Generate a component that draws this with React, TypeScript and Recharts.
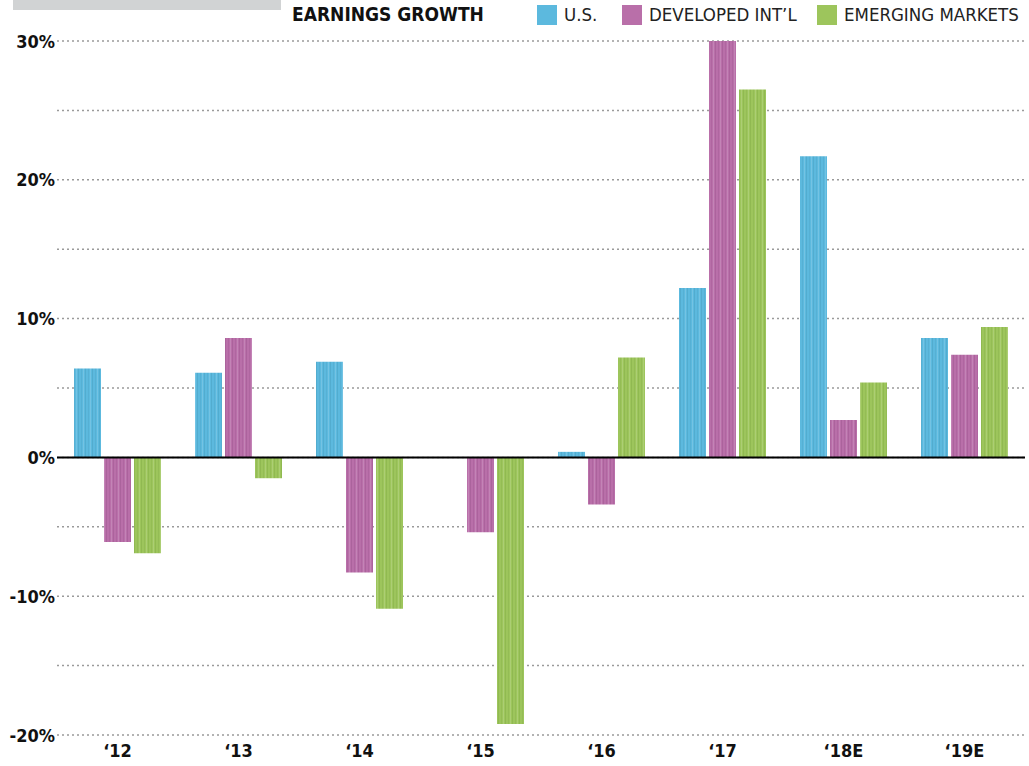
import React from "react";
import {
  BarChart,
  Bar,
  XAxis,
  YAxis,
  CartesianGrid,
  ReferenceLine,
} from "recharts";

// Earnings growth by year, in percent
const years = ["‘12", "‘13", "‘14", "‘15", "‘16", "‘17", "‘18E", "‘19E"];
const usGrowth = [6.4, 6.1, 6.9, 0, 0.4, 12.2, 21.7, 8.6];
const developedGrowth = [-6.1, 8.6, -8.3, -5.4, -3.4, 30.0, 2.7, 7.4];
const emergingGrowth = [-6.9, -1.5, -10.9, -19.2, 7.2, 26.5, 5.4, 9.4];
const yTicks = [-20, -15, -10, -5, 0, 5, 10, 15, 20, 25, 30];

const SERIES = [
  { key: "us", label: "U.S.", color: "#5cb9de", dark: "#4fa7ca" },
  { key: "dev", label: "DEVELOPED INT’L", color: "#b96fa9", dark: "#a65e97" },
  { key: "em", label: "EMERGING MARKETS", color: "#9dc55c", dark: "#8bb44d" },
];

const data = years.map((year, i) => ({
  year,
  us: usGrowth[i],
  dev: developedGrowth[i],
  em: emergingGrowth[i],
}));

const NARROW = "'Liberation Sans Narrow', 'DejaVu Sans Condensed', 'Roboto', sans-serif";

const YTick = ({ x, y, payload }: any) => {
  if (payload.value % 10 !== 0) return null;
  return (
    <text
      x={x + 6}
      y={y}
      textAnchor="end"
      dominantBaseline="central"
      fontFamily={NARROW}
      fontWeight={700}
      fontSize={18}
      fill="#111"
    >
      {`${payload.value}%`}
    </text>
  );
};

const XTick = ({ x, y, payload }: any) => (
  <text
    x={x}
    y={y + 14}
    textAnchor="middle"
    fontFamily={NARROW}
    fontWeight={700}
    fontSize={18}
    fill="#111"
  >
    {payload.value}
  </text>
);

export default function App() {
  return (
    <div
      style={{
        position: "absolute",
        left: 0,
        top: 0,
        width: 1029,
        height: 766,
        background: "#fff",
      }}
    >
      {/* grey tab and header */}
      <div
        style={{
          position: "absolute",
          left: 13,
          top: 0,
          width: 268,
          height: 10,
          background: "#d1d3d4",
        }}
      />
      <div
        style={{
          position: "absolute",
          left: 292,
          top: 3,
          fontFamily: NARROW,
          fontWeight: 700,
          fontSize: 19,
          color: "#111",
        }}
      >
        EARNINGS GROWTH
      </div>
      {SERIES.map((s, i) => {
        const lefts = [537, 622, 817];
        return (
          <div
            key={s.key}
            style={{
              position: "absolute",
              left: lefts[i],
              top: 4,
              display: "flex",
              alignItems: "center",
              fontFamily: NARROW,
              fontSize: 18.5,
              color: "#222",
            }}
          >
            <span
              style={{
                width: 20,
                height: 20,
                background: s.color,
                marginRight: 7,
              }}
            />
            {s.label}
          </div>
        );
      })}

      <BarChart
        width={1029}
        height={766}
        data={data}
        margin={{ top: 41, right: 4, bottom: 0, left: 0 }}
        barGap={3}
        barCategoryGap={17}
      >
        <defs>
          {SERIES.map((s) => (
            <pattern
              key={s.key}
              id={`stripe-${s.key}`}
              patternUnits="userSpaceOnUse"
              width={7}
              height={10}
            >
              <rect width={7} height={10} fill={s.color} />
              <rect x={1} width={1} height={10} fill={s.dark} opacity={0.7} />
              <rect x={4} width={1} height={10} fill={s.dark} opacity={0.5} />
              <rect x={6} width={1} height={10} fill="#fff" opacity={0.15} />
            </pattern>
          ))}
        </defs>
        <CartesianGrid
          vertical={false}
          stroke="#9a9a9a"
          strokeDasharray="2 3"
          strokeWidth={1.5}
        />
        <XAxis
          dataKey="year"
          axisLine={false}
          tickLine={false}
          height={31}
          tick={<XTick />}
          interval={0}
        />
        <YAxis
          type="number"
          domain={[-20, 30]}
          ticks={yTicks}
          axisLine={false}
          tickLine={false}
          width={57}
          tick={<YTick />}
          interval={0}
        />
        <ReferenceLine y={0} stroke="#000" strokeWidth={2} />
        {SERIES.map((s) => (
          <Bar
            key={s.key}
            dataKey={s.key}
            barSize={27}
            fill={`url(#stripe-${s.key})`}
            isAnimationActive={false}
          />
        ))}
      </BarChart>
    </div>
  );
}
